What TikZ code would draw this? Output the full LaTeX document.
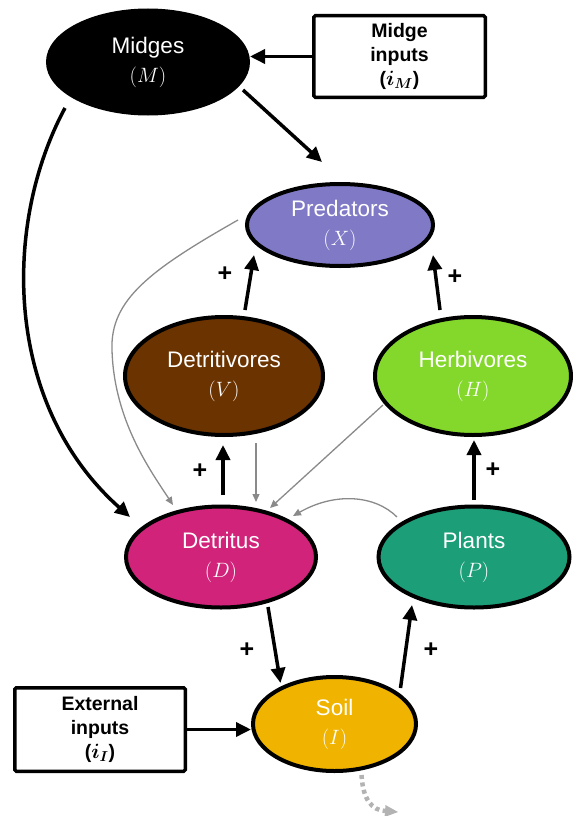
\documentclass[tikz,border=0pt]{standalone}
\usepackage{fontspec}
\setmainfont{Liberation Sans}
\usetikzlibrary{arrows.meta,shapes.geometric}
\definecolor{cPred}{HTML}{807AC6}
\definecolor{cDetv}{HTML}{6B3300}
\definecolor{cHerb}{HTML}{84D82C}
\definecolor{cDetr}{HTML}{D1237A}
\definecolor{cPlant}{HTML}{1C9E78}
\definecolor{cSoil}{HTML}{EFB300}
\definecolor{cGray}{HTML}{8A8A8A}
\definecolor{cLight}{HTML}{B3B3B3}
\newcommand{\boldsub}[2]{{\boldmath$#1_{#2}$}}
\begin{document}
\begin{tikzpicture}[x=1pt,y=-1pt,
  comp/.style={ellipse, draw=black, line width=4pt, text=white, inner sep=0pt, align=center,
    font=\fontsize{22.5}{27}\selectfont},
  inbox/.style={draw=black, line width=3.5pt, rounded corners=1.5pt, align=center, inner sep=0pt,
    font=\fontsize{19.5}{24}\selectfont\bfseries},
  arr/.style={line width=3.5pt, -{Triangle[length=15pt,width=14pt]}},
  garr/.style={draw=cGray, line width=1.3pt, -{Triangle[length=8pt,width=7pt]}, fill=none},
  dotarr/.style={draw=cLight, line width=4.5pt, dash pattern=on 4pt off 3.5pt,
    -{Triangle[length=13pt,width=12pt,fill=cLight,line width=0pt]}},
  plus/.style={font=\fontsize{25}{25}\selectfont\bfseries, inner sep=0pt}]
\useasboundingbox (0,0) rectangle (573,816);

% compartments
\node[comp, fill=black, minimum width=200pt, minimum height=103pt] (M) at (148,62) {Midges\\[2pt]$(M)$};
\node[comp, fill=cPred, minimum width=186pt, minimum height=82pt] (X) at (340,225) {Predators\\[2pt]$(X)$};
\node[comp, fill=cDetv, minimum width=198pt, minimum height=118pt] (V) at (224,376) {Detritivores\\[2pt]$(V)$};
\node[comp, fill=cHerb, minimum width=196pt, minimum height=118pt] (H) at (473,376) {Herbivores\\[2pt]$(H)$};
\node[comp, fill=cDetr, minimum width=190pt, minimum height=101pt] (D) at (221,557) {Detritus\\[2pt]$(D)$};
\node[comp, fill=cPlant, minimum width=191pt, minimum height=101pt] (P) at (474,557) {Plants\\[2pt]$(P)$};
\node[comp, fill=cSoil, minimum width=163pt, minimum height=94pt] (I) at (334.5,724) {Soil\\[2pt]$(I)$};

% input boxes
\node[inbox, minimum width=171.5pt, minimum height=81.5pt] (mbox) at (399.5,56.5) {Midge\\inputs\\{(}\boldsub{i}{M}{)}};
\node[inbox, minimum width=170.5pt, minimum height=83.5pt] (ebox) at (100,729.5) {External\\inputs\\{(}\boldsub{i}{I}{)}};
\coordinate (leak) at (398,812);

% black connectors
\draw[arr] (mbox.west) -- (mbox.west -| M.east);
\draw[arr] (ebox.east) -- (ebox.east -| I.west);
\draw[arr] ([shift={(95,28)}]M.center) -- ([shift={(-18,-63)}]X.center);
\draw[arr] ([shift={(-83,46)}]M.center) .. controls (2,225) and (4,405) .. ([shift={(-91,-40)}]D.center);
\draw[arr] ([shift={(21,-66)}]V.center) -- ([shift={(-86,30)}]X.center);
\draw[arr] ([shift={(-33,-66)}]H.center) -- ([shift={(93,30)}]X.center);
\draw[arr] ([shift={(2,-62)}]D.center) -- ([shift={(-1,69)}]V.center);
\draw[arr] ([shift={(0,-57)}]P.center) -- ([shift={(1,64)}]H.center);
\draw[arr] ([shift={(47,50)}]D.center) -- ([shift={(-54,-41)}]I.center);
\draw[arr] ([shift={(66,-36)}]I.center) -- ([shift={(-62,48)}]P.center);

% gray connectors to detritus
\draw[garr] ([shift={(-102,-5)}]X.center) .. controls (150,270) and (110,300) .. (112,350)
   .. controls (114,420) and (150,470) .. ([shift={(-48,-52)}]D.center);
\draw[garr] ([shift={(32,67)}]V.center) -- ([shift={(35,-55)}]D.center);
\draw[garr] ([shift={(-90,29)}]H.center) -- ([shift={(49,-49)}]D.center);
\draw[garr] ([shift={(-77,-40)}]P.center) .. controls (375,495) and (335,492) .. ([shift={(72,-41)}]D.center);

% leakage
\draw[dotarr] ([shift={(27,51)}]I.center) .. controls (363,800) and (372,810) .. (leak);

% signs
\node[plus] (p1) at (225,274) {+};
\node[plus] (p2) at (455,277) {+};
\node[plus] (p3) at (200,471) {+};
\node[plus] (p4) at (493,470) {+};
\node[plus] (p5) at (247,650) {+};
\node[plus] (p6) at (431,650) {+};
\end{tikzpicture}
\end{document}
